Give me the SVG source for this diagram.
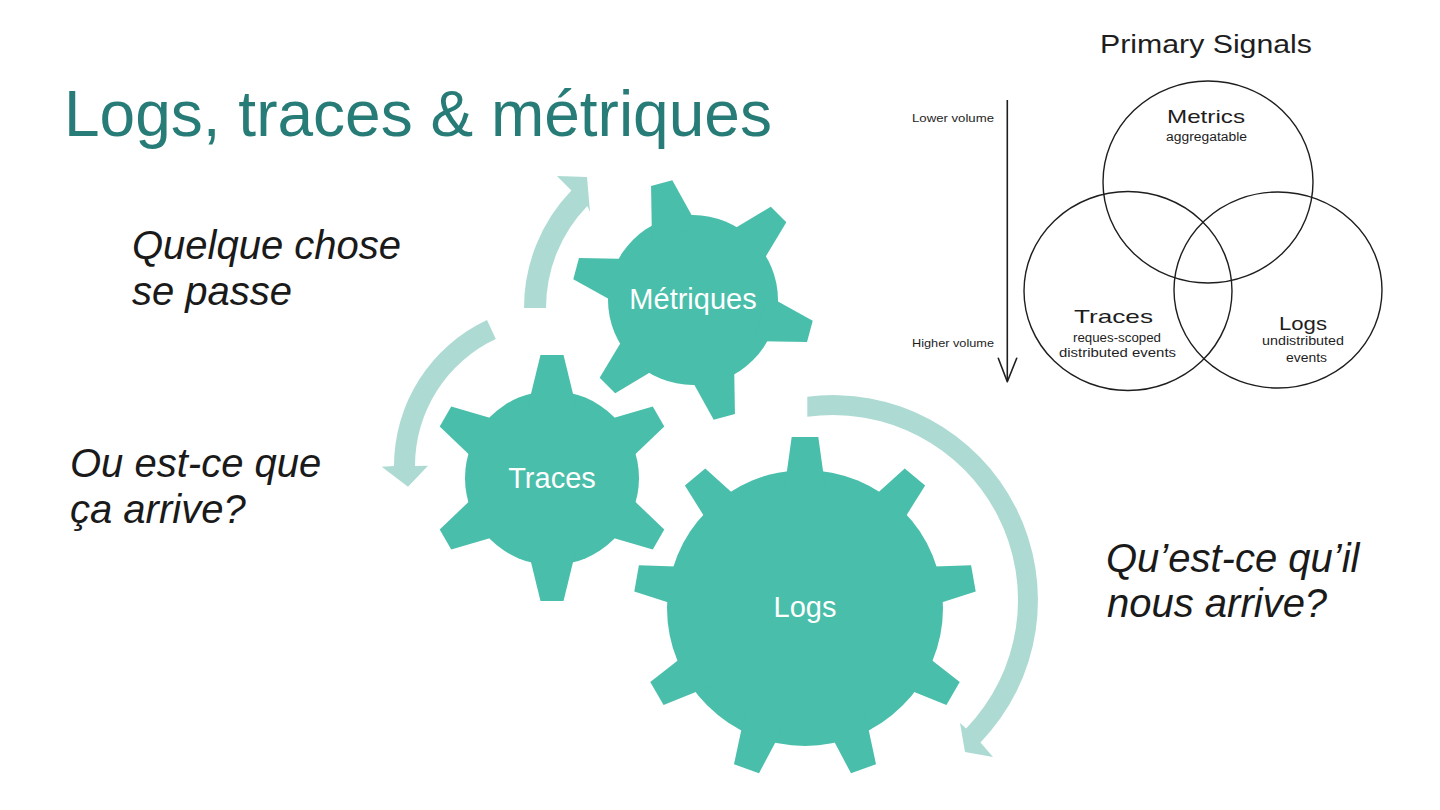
<svg xmlns="http://www.w3.org/2000/svg" width="1440" height="810" viewBox="0 0 1440 810">
<style>
.gear{fill:#49BEAA}
.glabel{fill:#ffffff;font-family:"Liberation Sans",Arial,sans-serif;font-size:29px;text-anchor:middle}
.arrow{fill:#ADDBD3}
.title{fill:#287C78;font-family:"Liberation Sans",Arial,sans-serif;font-size:64px}
.q{fill:#1a1a1a;font-family:"Liberation Sans",Arial,sans-serif;font-size:40px;font-style:italic}
.venn{fill:none;stroke:#1e1e1e;stroke-width:1.4}
.sk{fill:#1e1e1e;font-family:"Liberation Sans",Arial,sans-serif}
</style>
<defs>
<polygon id="tooth-m" points="-11,-121 11,-121 23.75,-70 -23.75,-70"/>
<polygon id="tooth-t" points="-11.5,-123 11.5,-123 24,-72 -24,-72"/>
<polygon id="tooth-l" points="-13.3,-171 13.3,-171 20.4,-120 -20.4,-120"/>
</defs>
<rect width="1440" height="810" fill="#ffffff"/>

<text id="title" class="title" x="64" y="136">Logs, traces &amp; métriques</text>

<g id="connectors">
<path id="arrow-metriques" class="arrow" d="M524,308 A169,169 0 0 1 571.4,190.6 L557,176 L587,177 L590,212 L587.3,205.9 A147,147 0 0 0 546,308 Z"/>
<path id="arrow-traces" class="arrow" d="M487,320.1 A161,161 0 0 0 394,466 L381.7,466.7 L408,486.7 L428,465.7 L415,466 A140,140 0 0 1 495.8,339.1 Z"/>
<path id="arrow-logs" class="arrow" d="M807.3,396.7 A205,205 0 0 1 980.5,742.4 L993,757 L965,752 L960,723 L966.1,728.5 A185,185 0 0 0 807.3,416.8 Z"/>
</g>

<g id="gear-metriques" class="gear" transform="translate(693,300)">
<circle r="85"/>
<use href="#tooth-m" transform="rotate(-15)"/>
<use href="#tooth-m" transform="rotate(45)"/>
<use href="#tooth-m" transform="rotate(105)"/>
<use href="#tooth-m" transform="rotate(165)"/>
<use href="#tooth-m" transform="rotate(225)"/>
<use href="#tooth-m" transform="rotate(285)"/>
<text class="glabel" x="0" y="9">Métriques</text>
</g>

<g id="gear-traces" class="gear" transform="translate(552,478)">
<circle r="87"/>
<use href="#tooth-t" transform="rotate(0)"/>
<use href="#tooth-t" transform="rotate(60)"/>
<use href="#tooth-t" transform="rotate(120)"/>
<use href="#tooth-t" transform="rotate(180)"/>
<use href="#tooth-t" transform="rotate(240)"/>
<use href="#tooth-t" transform="rotate(300)"/>
<text class="glabel" x="0" y="10">Traces</text>
</g>

<g id="gear-logs" class="gear" transform="translate(805,608)">
<circle r="138"/>
<use href="#tooth-l" transform="rotate(0)"/>
<use href="#tooth-l" transform="rotate(40)"/>
<use href="#tooth-l" transform="rotate(80)"/>
<use href="#tooth-l" transform="rotate(120)"/>
<use href="#tooth-l" transform="rotate(160)"/>
<use href="#tooth-l" transform="rotate(200)"/>
<use href="#tooth-l" transform="rotate(240)"/>
<use href="#tooth-l" transform="rotate(280)"/>
<use href="#tooth-l" transform="rotate(320)"/>
<text class="glabel" x="0" y="9">Logs</text>
</g>

<g id="text-quelque">
<text class="q" x="132" y="259">Quelque chose</text>
<text class="q" x="132" y="305">se passe</text>
</g>
<g id="text-ou">
<text class="q" x="70" y="477">Ou est-ce que</text>
<text class="q" x="70" y="523">ça arrive?</text>
</g>
<g id="text-quest">
<text class="q" x="1106" y="572">Qu’est-ce qu’il</text>
<text class="q" x="1107" y="617">nous arrive?</text>
</g>

<g id="primary-signals">
<text class="sk" x="1100" y="53" font-size="25" textLength="212" lengthAdjust="spacingAndGlyphs">Primary Signals</text>
<g id="volume-axis">
<line x1="1007.3" y1="100" x2="1007.3" y2="381" stroke="#1e1e1e" stroke-width="1.6"/>
<polyline points="998.3,358.3 1007.3,381.7 1016.7,358.3" fill="none" stroke="#1e1e1e" stroke-width="1.6" stroke-linejoin="round" stroke-linecap="round"/>
<text class="sk" x="912" y="122" font-size="11" textLength="82" lengthAdjust="spacingAndGlyphs">Lower volume</text>
<text class="sk" x="912" y="347" font-size="11" textLength="82" lengthAdjust="spacingAndGlyphs">Higher volume</text>
</g>
<g id="venn-metrics">
<ellipse class="venn" cx="1208" cy="182" rx="105" ry="101"/>
<text class="sk" x="1167" y="123" font-size="19" textLength="78" lengthAdjust="spacingAndGlyphs">Metrics</text>
<text class="sk" x="1166" y="141" font-size="12" textLength="81" lengthAdjust="spacingAndGlyphs">aggregatable</text>
</g>
<g id="venn-traces">
<ellipse class="venn" cx="1128" cy="291" rx="104" ry="99.5"/>
<text class="sk" x="1074" y="323" font-size="19" textLength="79" lengthAdjust="spacingAndGlyphs">Traces</text>
<text class="sk" x="1073" y="342" font-size="12" textLength="88" lengthAdjust="spacingAndGlyphs">reques-scoped</text>
<text class="sk" x="1059" y="357" font-size="12" textLength="117" lengthAdjust="spacingAndGlyphs">distributed events</text>
</g>
<g id="venn-logs">
<ellipse class="venn" cx="1278" cy="290" rx="104" ry="98"/>
<text class="sk" x="1279" y="330" font-size="19" textLength="48" lengthAdjust="spacingAndGlyphs">Logs</text>
<text class="sk" x="1262" y="345" font-size="12" textLength="82" lengthAdjust="spacingAndGlyphs">undistributed</text>
<text class="sk" x="1286" y="362" font-size="12" textLength="41" lengthAdjust="spacingAndGlyphs">events</text>
</g>
</g>
</svg>
